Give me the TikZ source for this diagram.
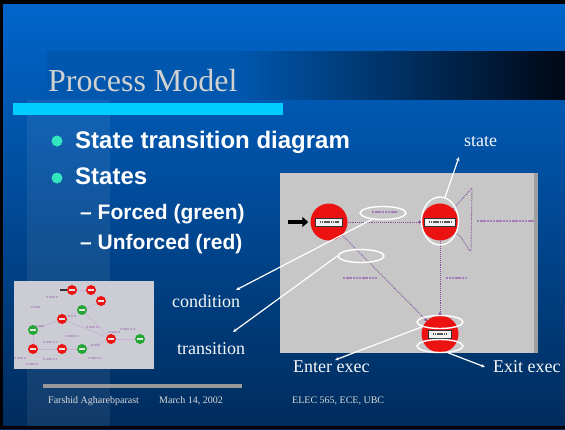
\documentclass[tikz,border=0pt]{standalone}
\usepackage{fontspec}
\setmainfont{Liberation Serif}
\newfontfamily\bulletfont[Ligatures=TeX]{Liberation Sans}
\usetikzlibrary{arrows.meta,shapes.geometric}

\definecolor{slidetop}{rgb}{0.0,0.40,0.80}
\definecolor{slidemid}{rgb}{0.0,0.31,0.62}
\definecolor{slidebot}{rgb}{0.0,0.17,0.36}
\definecolor{bandblue}{rgb}{0.0,0.34,0.68}
\definecolor{bandend}{rgb}{0.0,0.03,0.08}
\definecolor{titlegray}{rgb}{0.82,0.82,0.82}
\definecolor{barcyan}{rgb}{0.0,0.80,1.0}
\definecolor{dotteal}{rgb}{0.2,0.9,0.75}
\definecolor{panelgray}{rgb}{0.78,0.78,0.78}
\definecolor{thumbgray}{rgb}{0.80,0.80,0.83}
\definecolor{stred}{rgb}{0.93,0.07,0.07}
\definecolor{stgreen}{rgb}{0.13,0.66,0.2}
\definecolor{trpurple}{rgb}{0.52,0.32,0.62}
\definecolor{footgray}{rgb}{0.6,0.6,0.6}
\definecolor{foottext}{rgb}{0.86,0.86,0.86}

\tikzset{
	bigstate/.style={circle,fill=stred,minimum size=37pt,inner sep=0pt},
	smallstate/.style={circle,minimum size=10pt,inner sep=0pt,
		path picture={\draw[white!80!gray,line width=1.6pt] ([xshift=2pt]path picture bounding box.west) -- ([xshift=-2pt]path picture bounding box.east);}},
	tag/.style={draw=black!80,fill=white!90!gray,line width=0.6pt,minimum width=27pt,minimum height=8pt,inner sep=0pt,
		path picture={\draw[gray!70!black,dash pattern=on 1.6pt off 0.6pt,line width=1.6pt] ([xshift=4pt]path picture bounding box.west) -- ([xshift=-4pt]path picture bounding box.east);}},
	tlabel/.style={minimum height=4pt,inner sep=0pt,
		path picture={\draw[trpurple!75,dash pattern=on 2.4pt off 0.8pt,line width=2.4pt] (path picture bounding box.west) -- (path picture bounding box.east);}},
	trans/.style={trpurple,densely dotted,line width=0.9pt},
	ring/.style={ellipse,draw=white,line width=1.4pt,inner sep=0pt},
	note/.style={white,line width=1.2pt,-{Stealth[length=4pt,width=3.5pt]}},
	notetext/.style={text=white!94!gray,font=\fontsize{18}{18}\selectfont,inner sep=0pt,anchor=base west},
	bullettext/.style={text=white,font=\bulletfont\bfseries\fontsize{24}{24}\selectfont,inner sep=0pt,anchor=base west},
	subtext/.style={text=white,font=\bulletfont\bfseries\fontsize{21}{21}\selectfont,inner sep=0pt,anchor=base west},
	foot/.style={text=foottext,font=\fontsize{10}{10}\selectfont,inner sep=0pt,anchor=base west}
}

\begin{document}
\begin{tikzpicture}[x=1pt,y=-1pt]

	\useasboundingbox (0,0) rectangle (565,429);

	% slide background
	\shade[top color=slidetop,middle color=slidemid,bottom color=slidebot] (0,0) rectangle (565,429);
	\fill[white,opacity=0.07] (27,100) rectangle (110,426);
	\fill[bandblue] (47,51) rectangle (240,99);
	\shade[left color=bandblue,right color=bandend] (240,51) rectangle (565,99);
	\fill[black] (0,0) rectangle (565,4);
	\fill[black] (0,0) rectangle (3,429);
	\fill[black] (0,426) rectangle (565,429);

	\node[text=titlegray,font=\fontsize{32}{32}\selectfont,inner sep=0pt,anchor=base west] at (48,91) (title) {Process Model};
	\fill[barcyan] (13,103) rectangle (283,115);

	% bullets
	\fill[dotteal] (57,141) circle (5.5);
	\fill[dotteal] (57,178) circle (5.5);
	\node[bullettext] at (75,148) (b1) {State transition diagram};
	\node[bullettext] at (75,184) (b2) {States};
	\node[subtext] at (80,219) (b3) {\textendash{} Forced (green)};
	\node[subtext] at (80,249) (b4) {\textendash{} Unforced (red)};

	% small overview
	\node[fill=thumbgray,minimum width=140pt,minimum height=88pt,inner sep=0pt,anchor=north west] at (14,281) (thumb) {};
	\node[smallstate,fill=stred] at (72,290) (t1) {};
	\node[smallstate,fill=stred] at (91,290) (t2) {};
	\node[smallstate,fill=stred] at (101,301) (t3) {};
	\node[smallstate,fill=stgreen] at (82,310) (t4) {};
	\node[smallstate,fill=stred] at (62,319) (t5) {};
	\node[smallstate,fill=stgreen] at (33,330) (t6) {};
	\node[smallstate,fill=stred] at (111,339) (t7) {};
	\node[smallstate,fill=stgreen] at (140,339) (t8) {};
	\node[smallstate,fill=stred] at (33,349) (t9) {};
	\node[smallstate,fill=stred] at (62,349) (t10) {};
	\node[smallstate,fill=stgreen] at (82,349) (t11) {};
	\coordinate (thumbin) at (60,290);
	\draw[black!80,line width=1.5pt] (thumbin) -- (t1.west);
	\foreach \a/\b in {t1/t2,t2/t3,t3/t4,t4/t5,t5/t6,t5/t7,t7/t8,t6/t9,t9/t10,t10/t11,t11/t7,t4/t7}
		\draw[trpurple!45,line width=0.6pt] (\a) -- (\b);
	\foreach \x/\y/\w in {52/297/12,36/307/10,72/316/9,40/326/10,93/327/14,128/329/16,72/336/14,114/332/12,50/342/14,96/345/10,20/358/12,50/359/14,95/358/14,32/364/12}
		\node[tlabel,minimum width=\w pt,opacity=0.5] at (\x,\y) {};

	% state machine panel
	\node[fill=panelgray,minimum width=257pt,minimum height=180pt,inner sep=0pt,anchor=north west] at (280,173) (panel) {};
	\fill[gray!75] (534,173) rectangle (538,353);

	\node[bigstate] at (329,222) (1) {};
	\node[bigstate] at (440,222) (2) {};
	\node[bigstate] at (440,334) (3) {};
	\node[tag] at (1) (1tag) {};
	\node[tag,minimum width=31pt] at (2) (2tag) {};
	\node[tag,minimum width=23pt] at (3) (3tag) {};

	\coordinate (startin) at (288,222);
	\draw[black,line width=3.5pt,-{Triangle[length=6pt,width=10pt]},shorten >=2pt] (startin) -- (1.west);

	\draw[trans,-{Circle[length=3pt]}] (1.east) -- (2.west);
	\draw[trans,-{Circle[length=3pt]}] (1.-45) -- (3.135);
	\draw[trans,-{Circle[length=3pt]}] (2.south) -- (3.north);

	\coordinate (looptop) at (472,188);
	\coordinate (loopbot) at (471,249);
	\draw[trans] (2.45) -- (looptop) -- (loopbot) to [out=-90,in=-20] (2.-35);

	\node[tlabel,minimum width=26pt] at (385,212) (l1) {};
	\node[tlabel,minimum width=34pt] at (360,278) (l2) {};
	\node[tlabel,minimum width=21pt] at (456,278) (l3) {};
	\node[tlabel,minimum width=58pt] at (506,221) (l4) {};

	% annotations
	\node[ring,minimum width=46pt,minimum height=13pt] at (383,213) (r1) {};
	\node[ring,minimum width=46pt,minimum height=13pt] at (361,256) (r2) {};
	\node[ring,minimum width=37pt,minimum height=48pt] at (440,221) (r3) {};
	\node[ring,minimum width=46pt,minimum height=13pt] at (440,322) (r4) {};
	\node[ring,minimum width=46pt,minimum height=13pt] at (440,346) (r5) {};

	\node[notetext] at (464,146) (n1) {state};
	\node[notetext] at (172,307) (n2) {condition};
	\node[notetext] at (177,354) (n3) {transition};
	\node[notetext] at (293,372) (n4) {Enter exec};
	\node[notetext] at (493,372) (n5) {Exit exec};

	\coordinate (statetip) at (459,157);
	\coordinate (condtip) at (236,290);
	\coordinate (transtip) at (233,332);
	\coordinate (entertip) at (335,360);
	\coordinate (exittip) at (485,367);

	\draw[note] (r3.78) to (statetip);
	\draw[note] (r1.-150) to (condtip);
	\draw[note] (r2.west) to (transtip);
	\draw[note] (r4.195) to (entertip);
	\draw[note] (r5.-40) to (exittip);

	% footer
	\fill[footgray] (43,384) rectangle (242,388);
	\node[foot] at (48,403) (f1) {Farshid Agharebparast};
	\node[foot] at (159,403) (f2) {March 14, 2002};
	\node[foot] at (292,403) (f3) {ELEC 565, ECE, UBC};

\end{tikzpicture}
\end{document}
